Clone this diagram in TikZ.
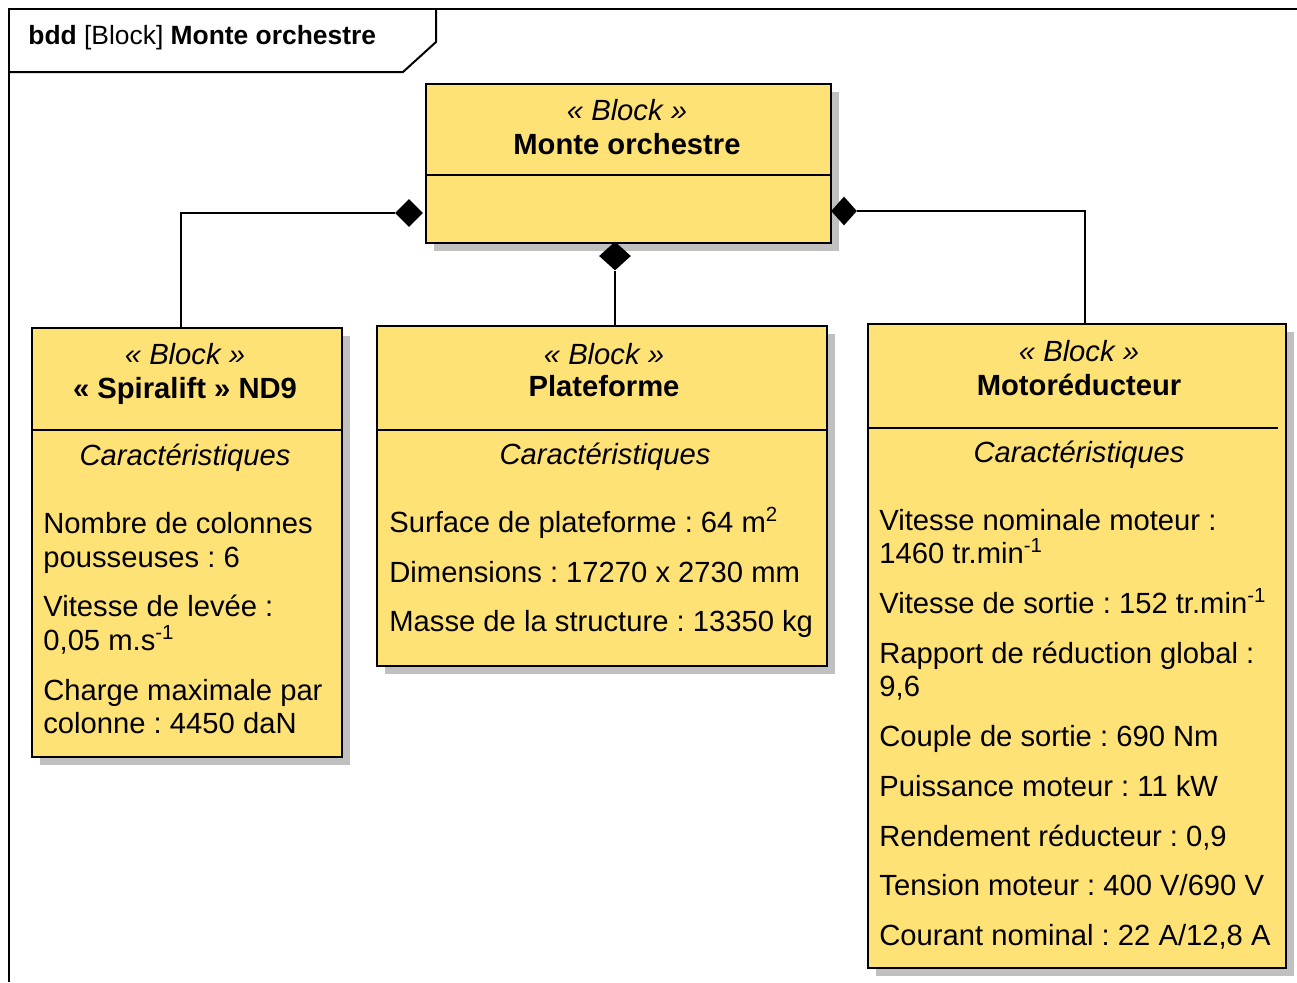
\documentclass[tikz,border=0pt]{standalone}
\usepackage{fontspec}
\setmainfont{Liberation Sans}
\usetikzlibrary{shapes.geometric,shadows}
\frenchspacing
\definecolor{blkyellow}{RGB}{255,226,117}
\definecolor{shadowgray}{RGB}{192,192,192}
\tikzset{
  blk/.style={draw=black, line width=1.1pt, fill=blkyellow, anchor=north west, inner sep=0pt,
    drop shadow={shadow xshift=4pt, shadow yshift=-4pt, fill=shadowgray, opacity=1}},
  divline/.style={line width=1.1pt},
  txt/.style={anchor=base west, inner sep=0pt, font=\fontsize{14.6}{17}\selectfont},
  ctxt/.style={anchor=base, inner sep=0pt, font=\fontsize{14.6}{17}\selectfont},
  ster/.style={ctxt, font=\fontsize{14.6}{17}\selectfont\itshape},
  bname/.style={ctxt, font=\fontsize{14.6}{17}\selectfont\bfseries},
  comp/.style={diamond, fill=black, draw=none, inner sep=0pt, aspect=1},
  conn/.style={line width=1pt},
  framel/.style={line width=1pt}
}
\begin{document}
\begin{tikzpicture}[x=0.5pt, y=-0.5pt]
\useasboundingbox (0,0) rectangle (1297,982);
\clip (0,0) rectangle (1297,982);
% frame
\draw[framel] (1297,9) -- (9,9) -- (9,982);
\draw[framel] (9,72) -- (403,72) -- (436,42) -- (436,9);
\node[anchor=base west, inner sep=0pt, font=\fontsize{13.2}{15}\selectfont] (ftitle) at (28,44) {\textbf{bdd} [Block] \textbf{Monte orchestre}};

% blocks
\node[blk, minimum width=202.5pt, minimum height=79.5pt] (top) at (425,83) {};
\node[blk, minimum width=155pt, minimum height=214.5pt] (left) at (31,327) {};
\node[blk, minimum width=225pt, minimum height=170pt] (mid) at (376,325) {};
\node[blk, minimum width=209pt, minimum height=322pt] (right) at (867,323) {};

% dividers
\draw[divline] (425,175) -- (830,175);
\draw[divline] (31,430) -- (341,430);
\draw[divline] (376,430) -- (826,430);
\draw[divline] (867,428) -- (1278,428);

% top block text
\node[ster] (tst) at (627,120) {« Block »};
\node[bname] (tnm) at (627,154) {Monte orchestre};

% left block text
\node[ster] (lst) at (185,364) {« Block »};
\node[bname] (lnm) at (185,398) {« Spiralift » ND9};
\node[ster] (lcar) at (185,465) {Caractéristiques};
\node[txt] (l1) at (43,533) {Nombre de colonnes};
\node[txt] (l2) at (43,567) {pousseuses : 6};
\node[txt] (l3) at (43,616) {Vitesse de levée :};
\node[txt] (l4) at (43,650) {0,05 m.s\textsuperscript{-1}};
\node[txt] (l5) at (43,700) {Charge maximale par};
\node[txt] (l6) at (43,733) {colonne : 4450 daN};

% middle block text
\node[ster] (mst) at (604,364) {« Block »};
\node[bname] (mnm) at (604,396) {Plateforme};
\node[ster] (mcar) at (605,464) {Caractéristiques};
\node[txt] (m1) at (389,532) {Surface de plateforme : 64 m\textsuperscript{2}};
\node[txt] (m2) at (389,582) {Dimensions : 17270 x 2730 mm};
\node[txt] (m3) at (389,631) {Masse de la structure : 13350 kg};

% right block text
\node[ster] (rst) at (1079,361) {« Block »};
\node[bname] (rnm) at (1079,395) {Motoréducteur};
\node[ster] (rcar) at (1079,462) {Caractéristiques};
\node[txt] (r1) at (879,530) {Vitesse nominale moteur :};
\node[txt] (r2) at (879,563) {1460 tr.min\textsuperscript{-1}};
\node[txt] (r3) at (879,613) {Vitesse de sortie : 152 tr.min\textsuperscript{-1}};
\node[txt] (r4) at (879,663) {Rapport de réduction global :};
\node[txt] (r5) at (879,696) {9,6};
\node[txt] (r6) at (879,746) {Couple de sortie : 690 Nm};
\node[txt] (r7) at (879,796) {Puissance moteur : 11 kW};
\node[txt] (r8) at (879,846) {Rendement réducteur : 0,9};
\node[txt] (r9) at (879,895) {Tension moteur : 400 V/690 V};
\node[txt] (r10) at (879,945) {Courant nominal : 22 A/12,8 A};

% composition diamonds
\node[comp, minimum width=14pt, minimum height=14pt] (dl) at (409,213) {};
\node[comp, minimum width=13pt, minimum height=14.5pt] (dr) at (844,211) {};
\node[comp, minimum width=16pt, minimum height=14.5pt] (dm) at (615,256) {};

% connector end points
\coordinate (cl) at (181,327);
\coordinate (cm) at (615,325);
\coordinate (cr) at (1085,323);

\draw[conn] (dl.west) -| (cl);
\draw[conn] (dm.south) -- (cm);
\draw[conn] (dr.east) -| (cr);
\end{tikzpicture}
\end{document}
